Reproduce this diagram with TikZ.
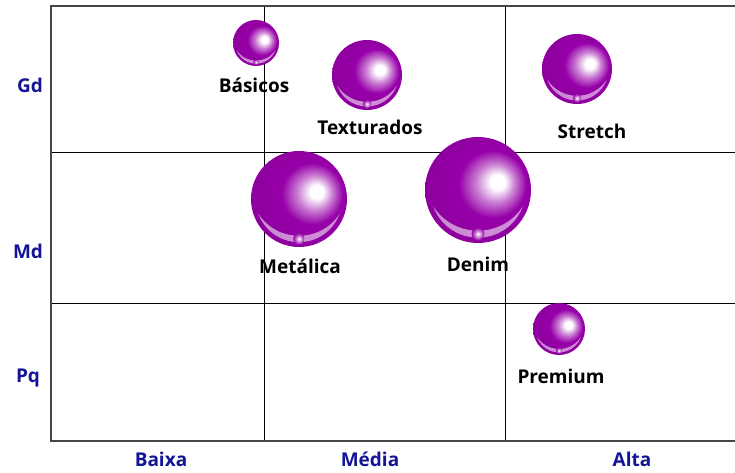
\documentclass[tikz,border=0pt]{standalone}
\usepackage{fontspec}
\setmainfont{Open Sans}
\definecolor{bubble}{RGB}{150,0,168}
\definecolor{bubbledark}{RGB}{128,0,142}
\definecolor{axisblue}{RGB}{20,20,150}
\definecolor{framegray}{RGB}{70,70,70}
\pgfdeclareradialshading{bubbleshade}{\pgfpoint{10bp}{4bp}}{%
  color(0bp)=(white); color(3.5bp)=(white); color(9bp)=(bubble!50!white);
  color(16bp)=(bubble); color(50bp)=(bubbledark)}
\tikzset{
  pics/bubble/.style={code={
    \begin{scope}[x=#1pt,y=#1pt]
      \shade[shading=bubbleshade] (0,0) circle[radius=1];
      \fill[white,opacity=0.55] (200:0.9) arc[start angle=200,end angle=340,radius=0.9]
        .. controls (0.45,-0.92) and (-0.45,-0.92) .. cycle;
      \shade[inner color=white,outer color=bubble] (0,-0.83) circle[radius=0.12];
    \end{scope}
  }},
  frameline/.style={draw=framegray,line width=1.4pt},
  gridline/.style={draw=black,line width=0.7pt},
  itemlabel/.style={font=\fontsize{19}{22}\selectfont\bfseries,text=black},
  axislabel/.style={font=\fontsize{19}{22}\selectfont\bfseries,text=axisblue}
}
\begin{document}
\begin{tikzpicture}[x=1pt,y=1pt]
\useasboundingbox[fill=white] (0,0) rectangle (735,473);
% grid
\draw[gridline] (264,467) -- (264,32);
\draw[gridline] (505,467) -- (505,32);
\draw[gridline] (51,321) -- (735,321);
\draw[gridline] (51,170) -- (735,170);
% frame
\draw[frameline] (735,467) -- (51,467) -- (51,32) -- (735,32);
% bubbles
\pic (basicos) at (256,430) {bubble=23};
\pic (texturados) at (367,398) {bubble=35};
\pic (stretch) at (577,404) {bubble=35};
\pic (metalica) at (299,274) {bubble=48};
\pic (denim) at (478,283) {bubble=53};
\pic (premium) at (559,144) {bubble=26};
% labels
\node[itemlabel] (lbasicos) at (254,388) {Básicos};
\node[itemlabel] (ltexturados) at (370,346) {Texturados};
\node[itemlabel] (lstretch) at (592,342) {Stretch};
\node[itemlabel] (lmetalica) at (300,207) {Metálica};
\node[itemlabel] (ldenim) at (478,209) {Denim};
\node[itemlabel] (lpremium) at (561,97) {Premium};
% axis labels
\node[axislabel] (gd) at (30,388) {Gd};
\node[axislabel] (md) at (28,222) {Md};
\node[axislabel] (pq) at (28,95) {Pq};
\node[axislabel] (baixa) at (161,14) {Baixa};
\node[axislabel] (media) at (370,14) {Média};
\node[axislabel] (alta) at (632,14) {Alta};
\end{tikzpicture}
\end{document}
